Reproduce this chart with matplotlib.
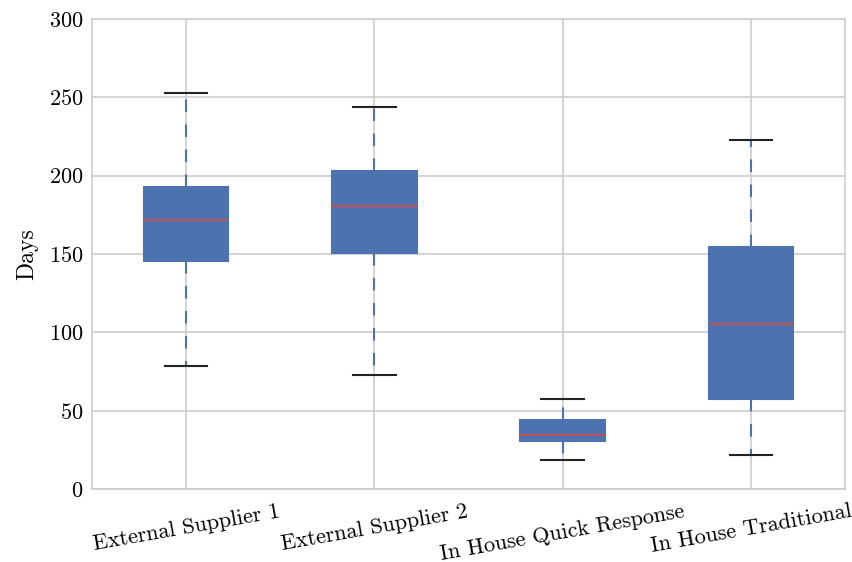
import matplotlib
matplotlib.use("Agg")
import matplotlib.pyplot as plt

labels = ["External Supplier 1", "External Supplier 2",
          "In House Quick Response", "In House Traditional"]
whislo = [78.5, 72.8, 18.5, 21.7]
q1 = [145.5, 150.6, 30.6, 57.4]
med = [171.7, 180.6, 34.5, 105.3]
q3 = [192.8, 203.0, 44.0, 154.5]
whishi = [252.8, 243.8, 57.4, 222.8]

plt.rcParams['font.family'] = ['cmr10', 'DejaVu Serif']
plt.rcParams['axes.unicode_minus'] = False
plt.rcParams['axes.formatter.use_mathtext'] = True

stats = []
for i in range(len(labels)):
    stats.append(dict(label=labels[i], whislo=whislo[i], q1=q1[i], med=med[i],
                      q3=q3[i], whishi=whishi[i], fliers=[]))

fig = plt.figure(figsize=(8.53, 5.62), dpi=100)
ax = fig.add_axes([92/853, 1 - 489/562, 753/853, 470/562])

ax.bxp(stats, widths=0.45, patch_artist=True, showfliers=False,
       boxprops=dict(facecolor="#4C72B0", edgecolor="#4C72B0", linewidth=1.5),
       medianprops=dict(color="#C44E52", linewidth=1.5),
       whiskerprops=dict(color="#4C72B0", linestyle=(0, (6, 6)), linewidth=1.5),
       capprops=dict(color="#222222", linewidth=1.5))

ax.set_xlim(0.5, 4.5)
ax.set_ylim(0, 300)
ax.set_yticks([0, 50, 100, 150, 200, 250, 300])
ax.set_xticklabels(labels, rotation=10, fontsize=16)
ax.tick_params(axis='y', labelsize=16, pad=6)
ax.tick_params(axis='x', pad=9)
ax.tick_params(length=0)
ax.set_ylabel("Days", fontsize=17, labelpad=8)
ax.grid(True, color="#cccccc", linewidth=1.2)
ax.set_axisbelow(True)
for s in ax.spines.values():
    s.set_color("#cccccc")
    s.set_linewidth(1.2)

fig.savefig("out.png", dpi=100)
